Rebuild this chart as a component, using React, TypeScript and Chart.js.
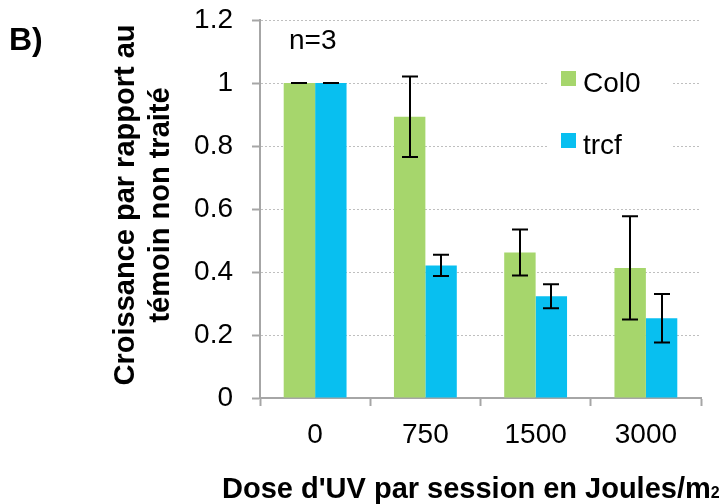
import React, { useEffect, useRef } from "react";
import { Chart, registerables } from "chart.js";

Chart.register(...registerables);

const categories = ["0", "750", "1500", "3000"];
const col0Values = [1, 0.893, 0.462, 0.413];
const col0Errors = [0, 0.128, 0.073, 0.164];
const trcfValues = [1, 0.421, 0.323, 0.253];
const trcfErrors = [0, 0.034, 0.038, 0.077];
const yTickLabels = ["0", "0.2", "0.4", "0.6", "0.8", "1", "1.2"];
const seriesNames = ["Col0", "trcf"];
const seriesColors = ["#A6D66C", "#08BFF0"];
const errorsBySeries = [col0Errors, trcfErrors];

const FONT = "'Liberation Sans', Arial, sans-serif";

const overlayPlugin = {
  id: "overlay",
  afterDatasetsDraw(chart: any) {
    const ctx = chart.ctx;
    const yScale = chart.scales.y;
    ctx.save();
    ctx.strokeStyle = "#000";
    ctx.lineWidth = 2;
    chart.data.datasets.forEach((ds: any, di: number) => {
      const meta = chart.getDatasetMeta(di);
      const errs = errorsBySeries[di];
      meta.data.forEach((bar: any, i: number) => {
        const v = ds.data[i];
        const e = errs[i];
        const x = Math.round(bar.x);
        const yTop = yScale.getPixelForValue(v + e);
        const yBot = yScale.getPixelForValue(v - e);
        const hw = 8;
        ctx.beginPath();
        ctx.moveTo(x, yTop);
        ctx.lineTo(x, yBot);
        ctx.moveTo(x - hw, yTop);
        ctx.lineTo(x + hw, yTop);
        ctx.moveTo(x - hw, yBot);
        ctx.lineTo(x + hw, yBot);
        ctx.stroke();
      });
    });
    ctx.restore();
  },
  afterDraw(chart: any) {
    const ctx = chart.ctx;
    ctx.save();
    ctx.fillStyle = "#000";
    ctx.textAlign = "left";
    ctx.textBaseline = "alphabetic";
    // Panel label
    ctx.font = `bold 32px ${FONT}`;
    ctx.fillText("B)", 9, 50);
    // n=3
    ctx.font = `28px ${FONT}`;
    ctx.fillText("n=3", 289, 49);
    // Legend
    ctx.fillStyle = "#fff";
    ctx.fillRect(548, 60, 124, 105);
    seriesNames.forEach((name, i) => {
      const y0 = 71 + i * 62;
      ctx.fillStyle = seriesColors[i];
      ctx.fillRect(561, y0, 15, 15);
      ctx.fillStyle = "#000";
      ctx.font = `28px ${FONT}`;
      ctx.fillText(name, 583, y0 + 21);
    });
    // Y title
    ctx.font = `bold 29px ${FONT}`;
    ctx.textAlign = "center";
    const yc = 205;
    ctx.save();
    ctx.translate(134, yc);
    ctx.rotate(-Math.PI / 2);
    ctx.fillText("Croissance par rapport au", 0, 0);
    ctx.restore();
    ctx.save();
    ctx.translate(169, yc);
    ctx.rotate(-Math.PI / 2);
    ctx.fillText("témoin non traité", 0, 0);
    ctx.restore();
    // X title
    ctx.textAlign = "left";
    ctx.font = `bold 29px ${FONT}`;
    const main = "Dose d'UV par session en Joules/m";
    const x0 = 222;
    ctx.fillText(main, x0, 498);
    const w = ctx.measureText(main).width;
    ctx.font = `bold 16px ${FONT}`;
    ctx.fillText("2", x0 + w, 498);
    ctx.restore();
  },
};

export default function App() {
  const ref = useRef<HTMLCanvasElement | null>(null);
  useEffect(() => {
    if (!ref.current) return;
    const chart = new Chart(ref.current, {
      type: "bar",
      data: {
        labels: categories,
        datasets: [
          {
            label: seriesNames[0],
            data: col0Values,
            backgroundColor: seriesColors[0],
            categoryPercentage: 0.57,
            barPercentage: 1,
          },
          {
            label: seriesNames[1],
            data: trcfValues,
            backgroundColor: seriesColors[1],
            categoryPercentage: 0.57,
            barPercentage: 1,
          },
        ],
      },
      options: {
        responsive: false,
        animation: false,
        devicePixelRatio: 1,
        layout: { autoPadding: false, padding: { top: 20, right: 24, left: 0, bottom: 0 } },
        plugins: { legend: { display: false }, tooltip: { enabled: false } },
        scales: {
          x: {
            grid: {
              display: true,
              drawOnChartArea: false,
              drawTicks: true,
              tickLength: 8,
              tickColor: "#A6A6A6",
              tickWidth: 2,
              offset: true,
            },
            border: { display: true, color: "#A6A6A6", width: 2 },
            ticks: {
              color: "#000",
              font: { family: FONT, size: 28 },
              padding: 12,
              maxRotation: 0,
            },
            afterFit(scale: any) {
              scale.height = 106;
              scale.paddingLeft = 0;
              scale.paddingRight = 0;
            },
          },
          y: {
            min: 0,
            max: 1.2,
            grid: {
              color: "#BFBFBF",
              lineWidth: 1,
              drawTicks: true,
              tickLength: 8,
              tickColor: "#A6A6A6",
              tickWidth: 2,
              tickBorderDash: [],
            },
            border: { display: true, color: "#A6A6A6", width: 2, dash: [2, 2] },
            ticks: {
              stepSize: 0.2,
              color: "#000",
              font: { family: FONT, size: 28 },
              padding: 19,
              callback: (_v: any, i: number) => yTickLabels[i],
            },
            afterFit(scale: any) {
              scale.width = 260;
              scale.paddingTop = 0;
              scale.paddingBottom = 0;
            },
          },
        },
      },
      plugins: [overlayPlugin],
    });
    return () => chart.destroy();
  }, []);
  return (
    <div style={{ position: "absolute", left: 0, top: 0, width: 725, height: 504, background: "#fff" }}>
      <canvas ref={ref} width={725} height={504} style={{ display: "block", width: 725, height: 504 }} />
    </div>
  );
}
